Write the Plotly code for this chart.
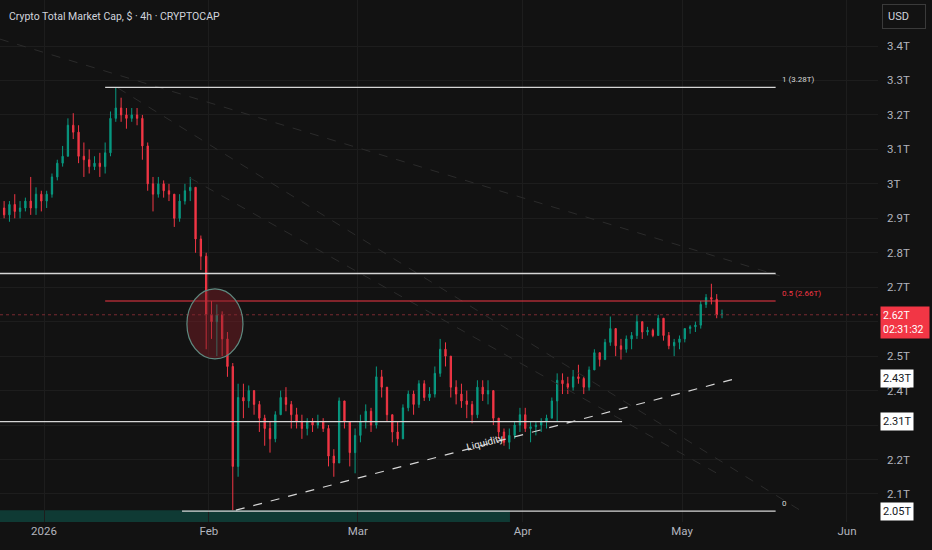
import pandas as pd
import plotly.graph_objects as go

# daily candles (values in trillions of USD)
days = pd.date_range("2025-12-24 12:00", periods=136, freq="D")

opens = [
    2.93, 2.91, 2.94, 2.92, 2.93, 2.95, 2.93, 2.97, 2.95, 2.97,
    3.02, 3.06, 3.08, 3.17, 3.15, 3.08, 3.07, 3.05, 3.06, 3.05,
    3.09, 3.19, 3.22, 3.20, 3.19, 3.20, 3.19, 3.11, 3.00, 2.97,
    3.00, 2.98, 2.97, 2.90, 2.95, 2.98, 2.99, 2.84, 2.79, 2.62,
    2.60, 2.62, 2.55, 2.47, 2.18, 2.38, 2.37, 2.40, 2.36, 2.32,
    2.29, 2.26, 2.33, 2.38, 2.36, 2.33, 2.31, 2.29, 2.31, 2.30,
    2.31, 2.29, 2.21, 2.19, 2.37, 2.31, 2.22, 2.27, 2.31, 2.34,
    2.30, 2.44, 2.41, 2.33, 2.28, 2.26, 2.35, 2.39, 2.36, 2.42,
    2.38, 2.39, 2.45, 2.52, 2.50, 2.41, 2.39, 2.37, 2.36, 2.33,
    2.41, 2.39, 2.40, 2.32, 2.28, 2.25, 2.27, 2.30, 2.33, 2.29,
    2.295, 2.30, 2.31, 2.32, 2.37, 2.43, 2.42, 2.41, 2.44, 2.435,
    2.41, 2.46, 2.51, 2.49, 2.54, 2.58, 2.53, 2.52, 2.55, 2.56,
    2.60, 2.57, 2.575, 2.56, 2.61, 2.56, 2.53, 2.54, 2.55, 2.58,
    2.585, 2.59, 2.65, 2.67, 2.665, 2.62,
]
highs = [
    2.95, 2.95, 2.97, 2.95, 2.96, 3.02, 2.99, 2.98, 2.98, 3.03,
    3.07, 3.11, 3.19, 3.205, 3.17, 3.12, 3.10, 3.08, 3.09, 3.12,
    3.21, 3.28, 3.25, 3.22, 3.22, 3.22, 3.20, 3.12, 3.02, 3.02,
    3.01, 3.00, 2.97, 2.97, 3.00, 3.02, 2.99, 2.85, 2.80, 2.66,
    2.65, 2.63, 2.57, 2.48, 2.42, 2.42, 2.415, 2.40, 2.37, 2.33,
    2.31, 2.34, 2.40, 2.41, 2.37, 2.35, 2.33, 2.32, 2.32, 2.33,
    2.32, 2.30, 2.23, 2.38, 2.37, 2.31, 2.29, 2.33, 2.36, 2.35,
    2.47, 2.46, 2.41, 2.33, 2.31, 2.36, 2.40, 2.40, 2.43, 2.43,
    2.41, 2.47, 2.55, 2.54, 2.50, 2.43, 2.42, 2.40, 2.37, 2.43,
    2.43, 2.43, 2.40, 2.32, 2.29, 2.29, 2.31, 2.35, 2.35, 2.31,
    2.31, 2.32, 2.33, 2.38, 2.45, 2.45, 2.44, 2.46, 2.475, 2.44,
    2.47, 2.52, 2.51, 2.55, 2.615, 2.58, 2.55, 2.56, 2.57, 2.62,
    2.60, 2.585, 2.58, 2.62, 2.61, 2.57, 2.55, 2.56, 2.58, 2.59,
    2.60, 2.66, 2.68, 2.71, 2.68, 2.635,
]
lows = [
    2.90, 2.89, 2.90, 2.90, 2.92, 2.91, 2.91, 2.92, 2.93, 2.96,
    3.01, 3.05, 3.08, 3.13, 3.06, 3.02, 3.03, 3.04, 3.02, 3.03,
    3.08, 3.18, 3.18, 3.16, 3.18, 3.17, 3.07, 2.98, 2.92, 2.96,
    2.96, 2.95, 2.875, 2.89, 2.94, 2.95, 2.80, 2.75, 2.52, 2.55,
    2.50, 2.50, 2.44, 2.053, 2.15, 2.32, 2.35, 2.33, 2.28, 2.24,
    2.22, 2.25, 2.33, 2.34, 2.29, 2.29, 2.26, 2.27, 2.28, 2.29,
    2.28, 2.18, 2.15, 2.19, 2.29, 2.18, 2.16, 2.25, 2.29, 2.28,
    2.29, 2.38, 2.31, 2.25, 2.24, 2.26, 2.34, 2.33, 2.35, 2.37,
    2.37, 2.38, 2.44, 2.47, 2.38, 2.36, 2.35, 2.32, 2.305, 2.32,
    2.37, 2.36, 2.30, 2.26, 2.24, 2.23, 2.26, 2.28, 2.28, 2.25,
    2.27, 2.28, 2.29, 2.32, 2.31, 2.39, 2.39, 2.40, 2.42, 2.39,
    2.40, 2.46, 2.47, 2.49, 2.53, 2.50, 2.49, 2.51, 2.52, 2.55,
    2.55, 2.56, 2.555, 2.56, 2.545, 2.52, 2.50, 2.52, 2.54, 2.565,
    2.57, 2.58, 2.64, 2.65, 2.61, 2.61,
]
closes = [
    2.91, 2.94, 2.92, 2.93, 2.95, 2.93, 2.97, 2.95, 2.97, 3.02,
    3.06, 3.08, 3.17, 3.15, 3.08, 3.07, 3.05, 3.06, 3.05, 3.09,
    3.19, 3.22, 3.20, 3.19, 3.20, 3.19, 3.11, 3.00, 2.97, 3.00,
    2.98, 2.97, 2.90, 2.95, 2.98, 2.99, 2.84, 2.79, 2.62, 2.60,
    2.62, 2.55, 2.47, 2.18, 2.38, 2.37, 2.40, 2.36, 2.32, 2.29,
    2.26, 2.33, 2.38, 2.36, 2.33, 2.31, 2.29, 2.31, 2.30, 2.31,
    2.29, 2.21, 2.19, 2.37, 2.31, 2.22, 2.27, 2.31, 2.34, 2.30,
    2.44, 2.41, 2.33, 2.28, 2.26, 2.35, 2.39, 2.36, 2.42, 2.38,
    2.39, 2.45, 2.52, 2.50, 2.41, 2.39, 2.37, 2.36, 2.33, 2.41,
    2.39, 2.40, 2.32, 2.28, 2.25, 2.27, 2.30, 2.33, 2.29, 2.295,
    2.30, 2.31, 2.32, 2.37, 2.43, 2.42, 2.41, 2.44, 2.435, 2.41,
    2.46, 2.51, 2.49, 2.54, 2.58, 2.53, 2.52, 2.55, 2.56, 2.60,
    2.57, 2.575, 2.56, 2.61, 2.56, 2.53, 2.54, 2.55, 2.58, 2.585,
    2.59, 2.65, 2.67, 2.665, 2.62, 2.622,
]

y_ticks = [2.1, 2.2, 2.3, 2.4, 2.5, 2.6, 2.7, 2.8, 2.9, 3.0, 3.1, 3.2, 3.3, 3.4]
# 2.6T and 2.3T sit under the price tags, so they show no text
y_tick_text = ["2.1T", "2.2T", "", "2.4T", "2.5T", "", "2.7T",
               "2.8T", "2.9T", "3T", "3.1T", "3.2T", "3.3T", "3.4T"]
x_ticks = ["2026-01-01", "2026-02-01", "2026-03-01", "2026-04-01", "2026-05-01", "2026-06-01"]
x_tick_text = ["2026", "Feb", "Mar", "Apr", "May", "Jun"]

# drawings on the chart
fib_levels = [3.28, 2.66, 2.05]
fib_labels = ["1 (3.28T)", "0.5 (2.66T)", "0"]
fib_starts = ["2026-01-12 12:00", "2026-01-12 12:00", "2026-01-26 23:00"]
fib_end = "2026-05-18 14:00"
upper_level = 2.74
lower_level = 2.31
lower_level_end = "2026-04-19 17:00"
last_price = 2.62
price_tags = ["2.43T", "2.31T", "2.05T"]
price_tag_levels = [2.435, 2.31, 2.05]
liquidity_line = [("2026-02-06 02:00", 2.053), ("2026-05-11 03:00", 2.435)]
liquidity_label = ("2026-03-25 00:00", 2.25)
channel_lines = [
    [("2025-12-23 17:00", 3.42), ("2026-05-19 09:00", 2.733)],
    [("2026-01-14 22:00", 3.278), ("2026-05-23 04:00", 2.053)],
    [("2026-01-28 11:00", 3.017), ("2026-05-08 03:00", 2.155)],
]
circle_box = [("2026-01-27 21:00", 2.492), ("2026-02-07 10:00", 2.695)]
range_band = [("2025-12-20", 2.0), ("2026-03-29 15:00", 2.053)]

x_range = ["2025-12-23 17:25", "2026-06-06 20:00"]
y_range = [2.0187, 3.5335]

BG = "#121212"
GRID = "#1d1d1d"
TXT = "#b2b5be"
UP = "#089981"
DOWN = "#f23645"
FONT = "Roboto"
AX_X = 880 / 878


def add_drawings(fig):
    fig.add_shape(type="rect", x0=range_band[0][0], y0=range_band[0][1],
                  x1=range_band[1][0], y1=range_band[1][1],
                  fillcolor="#0f3a34", line_width=0, layer="below")
    for ln in channel_lines:
        fig.add_shape(type="line", x0=ln[0][0], y0=ln[0][1], x1=ln[1][0], y1=ln[1][1],
                      line=dict(color="#2b2b2b", width=1, dash="dash"))
    fig.add_shape(type="line", x0=x_range[0], x1=fib_end, y0=upper_level, y1=upper_level,
                  line=dict(color="#d6d6d6", width=1.5))
    fig.add_shape(type="line", x0=x_range[0], x1=lower_level_end, y0=lower_level, y1=lower_level,
                  line=dict(color="#d6d6d6", width=1.2))
    fig.add_shape(type="line", xref="x domain", x0=0, x1=1, y0=last_price, y1=last_price,
                  line=dict(color="#7a2a31", width=1, dash="dot"))
    for lvl, lab, start in zip(fib_levels, fib_labels, fib_starts):
        col = DOWN if lvl == 2.66 else "#d6d6d6"
        fig.add_shape(type="line", x0=start, x1=fib_end, y0=lvl, y1=lvl,
                      line=dict(color=col, width=1.2))
        fig.add_annotation(x=fib_end, y=lvl, text=lab, showarrow=False,
                           xanchor="left", yanchor="bottom", xshift=4, yshift=1,
                           font=dict(family=FONT, size=8, color=col))
    fig.add_shape(type="line", x0=liquidity_line[0][0], y0=liquidity_line[0][1],
                  x1=liquidity_line[1][0], y1=liquidity_line[1][1],
                  line=dict(color="#d6d6d6", width=1.2, dash="dash"))
    fig.add_annotation(x=liquidity_label[0], y=liquidity_label[1], text="Liquidity",
                       showarrow=False, textangle=-14.5,
                       font=dict(family=FONT, size=10, color="#e8e8e8"))
    fig.add_shape(type="circle", x0=circle_box[0][0], y0=circle_box[0][1],
                  x1=circle_box[1][0], y1=circle_box[1][1],
                  fillcolor="rgba(130,30,40,0.45)", line=dict(color="#5f8a80", width=1.2))


def add_axis_tags(fig):
    fig.add_annotation(xref="paper", x=AX_X, y=last_price, yshift=-8,
                       text="2.62T<br>02:31:32", showarrow=False, align="left",
                       xanchor="left", yanchor="middle", bgcolor=DOWN, borderpad=2,
                       width=44, font=dict(family=FONT, size=10.5, color="#ffffff"))
    for lab, lvl in zip(price_tags, price_tag_levels):
        fig.add_annotation(xref="paper", x=AX_X, y=lvl, text=lab, showarrow=False,
                           xanchor="left", yanchor="middle", bgcolor="#ffffff",
                           borderpad=2, font=dict(family=FONT, size=11, color="#131722"))
    fig.add_annotation(xref="paper", yref="paper", x=882 / 878, y=1 - 16 / 522,
                       text="USD", showarrow=False, xanchor="left", yanchor="middle",
                       bordercolor="#3a3a3a", borderwidth=1, borderpad=5, width=32,
                       align="left", font=dict(family=FONT, size=11, color="#d1d4dc"))
    fig.add_annotation(xref="paper", yref="paper", x=7 / 878, y=1 - 16 / 522,
                       text="Crypto Total Market Cap, $ · 4h · CRYPTOCAP", showarrow=False,
                       xanchor="left", yanchor="middle",
                       font=dict(family=FONT, size=10.5, color="#d1d4dc"))


def main():
    fig = go.Figure()
    fig.add_trace(go.Candlestick(
        x=days, open=opens, high=highs, low=lows, close=closes,
        whiskerwidth=0,
        increasing=dict(line=dict(color=UP, width=1), fillcolor=UP),
        decreasing=dict(line=dict(color=DOWN, width=1), fillcolor=DOWN),
        hoverinfo="skip"))
    add_drawings(fig)
    add_axis_tags(fig)
    fig.update_xaxes(range=x_range, rangeslider_visible=False, tickvals=x_ticks,
                     ticktext=x_tick_text, showgrid=True, gridcolor=GRID, zeroline=False,
                     showline=False, ticks="", tickfont=dict(family=FONT, size=11.5, color=TXT))
    fig.update_yaxes(range=y_range, side="right", tickvals=y_ticks, ticktext=y_tick_text,
                     showgrid=True, gridcolor=GRID, zeroline=False, showline=False, ticks="",
                     ticklabelstandoff=8,
                     tickfont=dict(family=FONT, size=11.5, color=TXT))
    fig.update_layout(width=932, height=550, margin=dict(l=0, r=54, t=0, b=28),
                      paper_bgcolor=BG, plot_bgcolor=BG, showlegend=False,
                      hovermode=False, boxgap=0.65)
    fig.write_html("out.html", config={"displayModeBar": False},
                   post_script="document.body.style.margin='0';"
                               "document.body.style.background='#121212';")


if __name__ == "__main__":
    main()
